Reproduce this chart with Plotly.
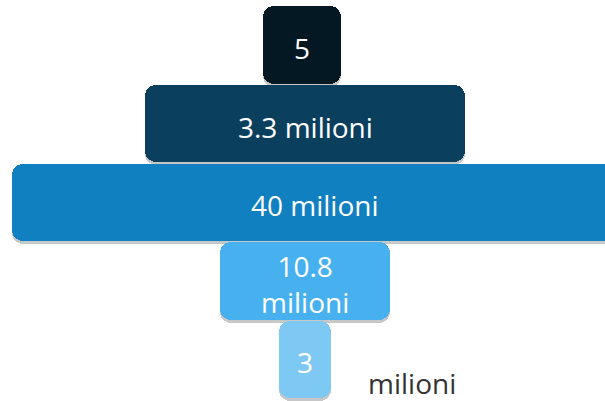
import plotly.graph_objects as go

# ---- data ----
categories = ["Livello 1", "Livello 2", "Livello 3", "Livello 4", "Livello 5"]
labels = ["5", "3.3 milioni", "40 milioni", "10.8<br>milioni", "3"]
bar_widths = [78, 320, 606, 170, 52]      # visual bar lengths (px-units)
bar_centers = [302, 305, 315, 305, 305]   # horizontal centre of each bar
colors = ["#031823", "#0b3f5e", "#1080c0", "#47b1ef", "#7ec8f4"]
side_note = "milioni"

FONT = "Open Sans"
lefts = [c - w / 2 for c, w in zip(bar_centers, bar_widths)]

fig = go.Figure()

# soft shadow (same bars, nudged down a little)
shadow_offset = -0.4925 + 3 / 78.6
fig.add_trace(go.Bar(
    y=categories, x=bar_widths, base=lefts, orientation="h",
    width=0.985, offset=shadow_offset,
    marker=dict(color="rgba(0,0,0,0.22)", cornerradius=11, line=dict(width=0)),
    hoverinfo="skip", showlegend=False,
))

# main bars
fig.add_trace(go.Bar(
    y=categories, x=bar_widths, base=lefts, orientation="h",
    width=0.985,
    marker=dict(color=colors, cornerradius=11, line=dict(width=0)),
    hoverinfo="skip", showlegend=False,
))

# labels inside the bars
for cat, cx, lab in zip(categories, bar_centers, labels):
    fig.add_annotation(
        x=cx, y=cat, xref="x", yref="y", xanchor="center", yanchor="middle",
        yshift=-3, showarrow=False, text=lab,
        font=dict(family=FONT, size=28, color="white"),
    )

fig.add_annotation(
    x=bar_centers[-1] + bar_widths[-1] / 2, y=categories[-1],
    xref="x", yref="y", xanchor="left", yanchor="middle",
    xshift=35, yshift=-24, showarrow=False,
    text=side_note, font=dict(family=FONT, size=28, color="#333333"),
)

fig.update_layout(
    width=605, height=401,
    margin=dict(l=0, r=0, t=0, b=0),
    paper_bgcolor="white", plot_bgcolor="white",
    barmode="overlay", bargap=0,
    showlegend=False,
    xaxis=dict(range=[0, 605], visible=False, fixedrange=True),
    yaxis=dict(type="category", categoryorder="array", categoryarray=categories,
               range=[4.528, -0.5725], visible=False, fixedrange=True),
)

fig.write_html("out.html", config={"displayModeBar": False},
               post_script="document.body.style.margin='0';")
